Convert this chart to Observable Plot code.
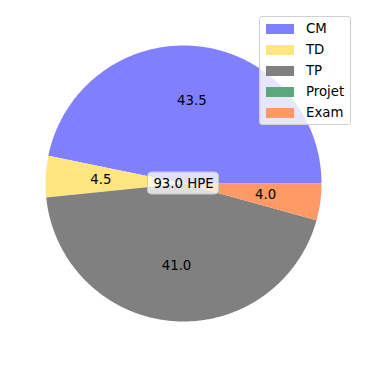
<!DOCTYPE html>
<html>
<head>
<meta charset="utf-8">
<script src="https://cdn.jsdelivr.net/npm/d3@7"></script>
<script src="https://cdn.jsdelivr.net/npm/@observablehq/plot@0.6"></script>
<style>
  html, body { margin: 0; padding: 0; background: #fff; }
  #wrap { position: relative; width: 366px; height: 366px; font-family: "DejaVu Sans", sans-serif; }
  #legend { position: absolute; left: 259px; top: 16px; width: 92px; height: 109px;
    background: rgba(255,255,255,0.8); border: 1px solid #d0d0d0; border-radius: 3px; box-sizing: border-box; }
  .row { position: absolute; left: 0; height: 14px; font-size: 13.3px; line-height: 14px; color: #000; }
  .sw { position: absolute; left: 6px; top: 2px; width: 28px; height: 10px; }
  .lb { position: absolute; left: 46px; top: 0; white-space: nowrap; }
</style>
</head>
<body>
<div id="wrap"></div>
<script>
const labels = ["CM", "TD", "TP", "Projet", "Exam"];
const values = [43.5, 4.5, 41.0, 0.0, 4.0];
const colors = ["#8080ff", "#ffe680", "#808080", "#5aa87c", "#ff9966"];
const unit = "HPE";

const total = d3.sum(values);
const R = 138;
const half = 183 / R;

// slice angles (start east, counterclockwise)
let acc = 0;
const slices = values.map((v, i) => {
  const a0 = acc / total * 2 * Math.PI;
  acc += v;
  const a1 = acc / total * 2 * Math.PI;
  return {label: labels[i], value: v, color: colors[i], a0, a1};
});

function polygon(s) {
  const pts = [{x: 0, y: 0}];
  const n = Math.max(2, Math.ceil((s.a1 - s.a0) / (Math.PI / 360)));
  for (let k = 0; k <= n; k++) {
    const a = s.a0 + (s.a1 - s.a0) * k / n;
    pts.push({x: Math.cos(a), y: Math.sin(a)});
  }
  pts.push({x: 0, y: 0});
  return pts;
}

const labelPts = slices.filter(s => s.value > 0).map(s => {
  const m = (s.a0 + s.a1) / 2;
  return {x: 0.6 * Math.cos(m), y: 0.6 * Math.sin(m), text: s.value.toFixed(1)};
});

const chart = Plot.plot({
  width: 366,
  height: 366,
  margin: 0,
  x: {domain: [-half, half], axis: null},
  y: {domain: [-half, half], axis: null},
  style: {fontFamily: "DejaVu Sans, sans-serif", background: "white"},
  marks: [
    ...slices.filter(s => s.value > 0).map(s =>
      Plot.line(polygon(s), {x: "x", y: "y", fill: s.color, stroke: "none"})
    ),
    Plot.text(labelPts, {x: "x", y: "y", text: "text", fontSize: 13.3, fill: "black"}),
    Plot.rect([{x: 0, y: 0}], {x1: "x", x2: "x", y1: "y", y2: "y",
      insetLeft: -35.5, insetRight: -35.5, insetTop: -11, insetBottom: -11,
      rx: 4, fill: "white", fillOpacity: 0.75, stroke: "#c8c8c8", strokeWidth: 1}),
    Plot.text([{x: 0, y: 0, t: total.toFixed(1) + " " + unit}], {x: "x", y: "y", text: "t", fontSize: 13.3, fill: "black"})
  ]
});

const wrap = document.getElementById("wrap");
chart.style.position = "absolute";
chart.style.left = "0";
chart.style.top = "0";
wrap.appendChild(chart);

const legend = document.createElement("div");
legend.id = "legend";
labels.forEach((l, i) => {
  const row = document.createElement("div");
  row.className = "row";
  row.style.top = (5 + i * 21) + "px";
  row.innerHTML = `<div class="sw" style="background:${colors[i]}"></div><div class="lb">${l}</div>`;
  legend.appendChild(row);
});
wrap.appendChild(legend);
</script>
</body>
</html>
